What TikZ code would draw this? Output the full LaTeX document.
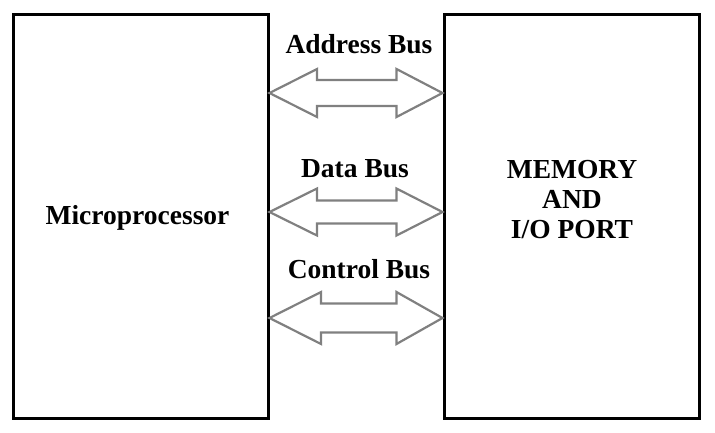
\documentclass[tikz,border=0pt]{standalone}
\usepackage{fontspec}
\setmainfont{Liberation Serif}
\definecolor{busgray}{RGB}{128,128,128}
\newcommand\busarrow[5]{% #1 centre y, #2 head half, #3 shaft half, #4 left base x, #5 right base x
  \draw[bus] (mp.east |- 0,#1) -- (#4,#1-#2) -- (#4,#1-#3) -- (#5,#1-#3) -- (#5,#1-#2)
    -- (mem.west |- 0,#1) -- (#5,#1+#2) -- (#5,#1+#3) -- (#4,#1+#3) -- (#4,#1+#2) -- cycle;}
\begin{document}
\begin{tikzpicture}[x=1pt,y=-1pt,
  box/.style={draw,line width=3pt,minimum height=404pt,inner sep=0pt},
  txt/.style={inner sep=0pt,align=center,font=\fontsize{27.5}{30}\selectfont\bfseries},
  lbl/.style={anchor=base,inner sep=0pt,font=\fontsize{27.5}{30}\selectfont\bfseries},
  bus/.style={draw=busgray,line width=2.2pt,line join=miter,miter limit=10}]
\useasboundingbox (0,0) rectangle (715,432);
\node[box,minimum width=254.5pt] (mp) at (140.75,216.5) {};
\node[box,minimum width=255.5pt] (mem) at (571.75,216.5) {};
\node[lbl] (mptxt) at (137.5,224) {Microprocessor};
\node[txt] (memtxt) at (572,199.5) {MEMORY\\AND\\I/O PORT};
\busarrow{93}{24}{13}{317}{396.5}
\busarrow{212}{23.5}{11.5}{317}{396.5}
\busarrow{318}{26}{14.5}{321}{396.5}
\node[lbl] (ab) at (359,53.5) {Address Bus};
\node[lbl] (db) at (355,177) {Data Bus};
\node[lbl] (cb) at (359,278) {Control Bus};
\end{tikzpicture}
\end{document}
